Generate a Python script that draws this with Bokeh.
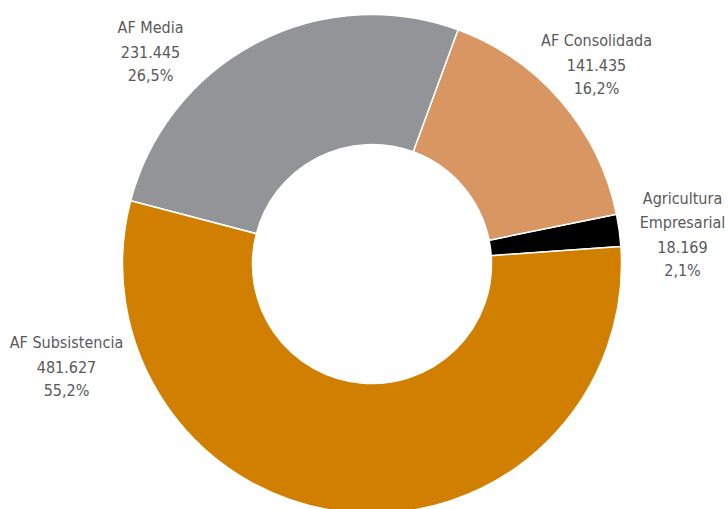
import math
from bokeh.plotting import figure
from bokeh.models import Range1d, ColumnDataSource
from bokeh.core.properties import value
from bokeh.embed import file_html
from bokeh.resources import INLINE

# ---- data ----
categories = ["Agricultura Empresarial", "AF Consolidada", "AF Media", "AF Subsistencia"]
values = [18169, 141435, 231445, 481627]
colors = ["#000000", "#D89662", "#929497", "#D17F00"]
label_lines = [["Agricultura", "Empresarial"], ["AF Consolidada"], ["AF Media"], ["AF Subsistencia"]]

# ---- layout (screen pixels) ----
W, H = 728, 509
CX, CY = 371.5, 263.5
R_OUT, R_IN = 249.5, 119.5
START_DEG = 4.0
label_anchor = [(682, 198), (596, 40), (150, 27), (66, 342)]
LINE_STEP = 24.0

total = float(sum(values))
starts, ends = [], []
a = math.radians(START_DEG)
for v in values:
    starts.append(a)
    a += v / total * 2 * math.pi
    ends.append(a)

p = figure(width=W, height=H, output_backend="svg", toolbar_location=None,
           x_range=Range1d(0, W), y_range=Range1d(-H, 0),
           min_border=0, outline_line_color=None, tools="")
p.axis.visible = False
p.grid.visible = False
p.background_fill_color = "white"
p.border_fill_color = "white"

src = ColumnDataSource(dict(start=starts, end=ends, color=colors))
p.annular_wedge(x=CX, y=-CY, inner_radius=R_IN, outer_radius=R_OUT,
                start_angle="start", end_angle="end", direction="anticlock",
                fill_color="color", line_color="white", line_width=1.5, source=src)

tx, ty, tt = [], [], []
for i, v in enumerate(values):
    lines = list(label_lines[i])
    lines.append(f"{v:,}".replace(",", "."))
    lines.append(f"{v / total * 100:.1f}".replace(".", ",") + "%")
    ax, ay = label_anchor[i]
    for k, s in enumerate(lines):
        tx.append(ax)
        ty.append(-(ay + k * LINE_STEP))
        tt.append(s)

p.text(x=tx, y=ty, text=tt, text_align="center", text_baseline="middle",
       text_font=value("'DejaVu Sans Condensed', Roboto, sans-serif"), text_font_size="16px",
       text_color="#58595B")

open("out.html", "w").write(file_html(p, INLINE))
